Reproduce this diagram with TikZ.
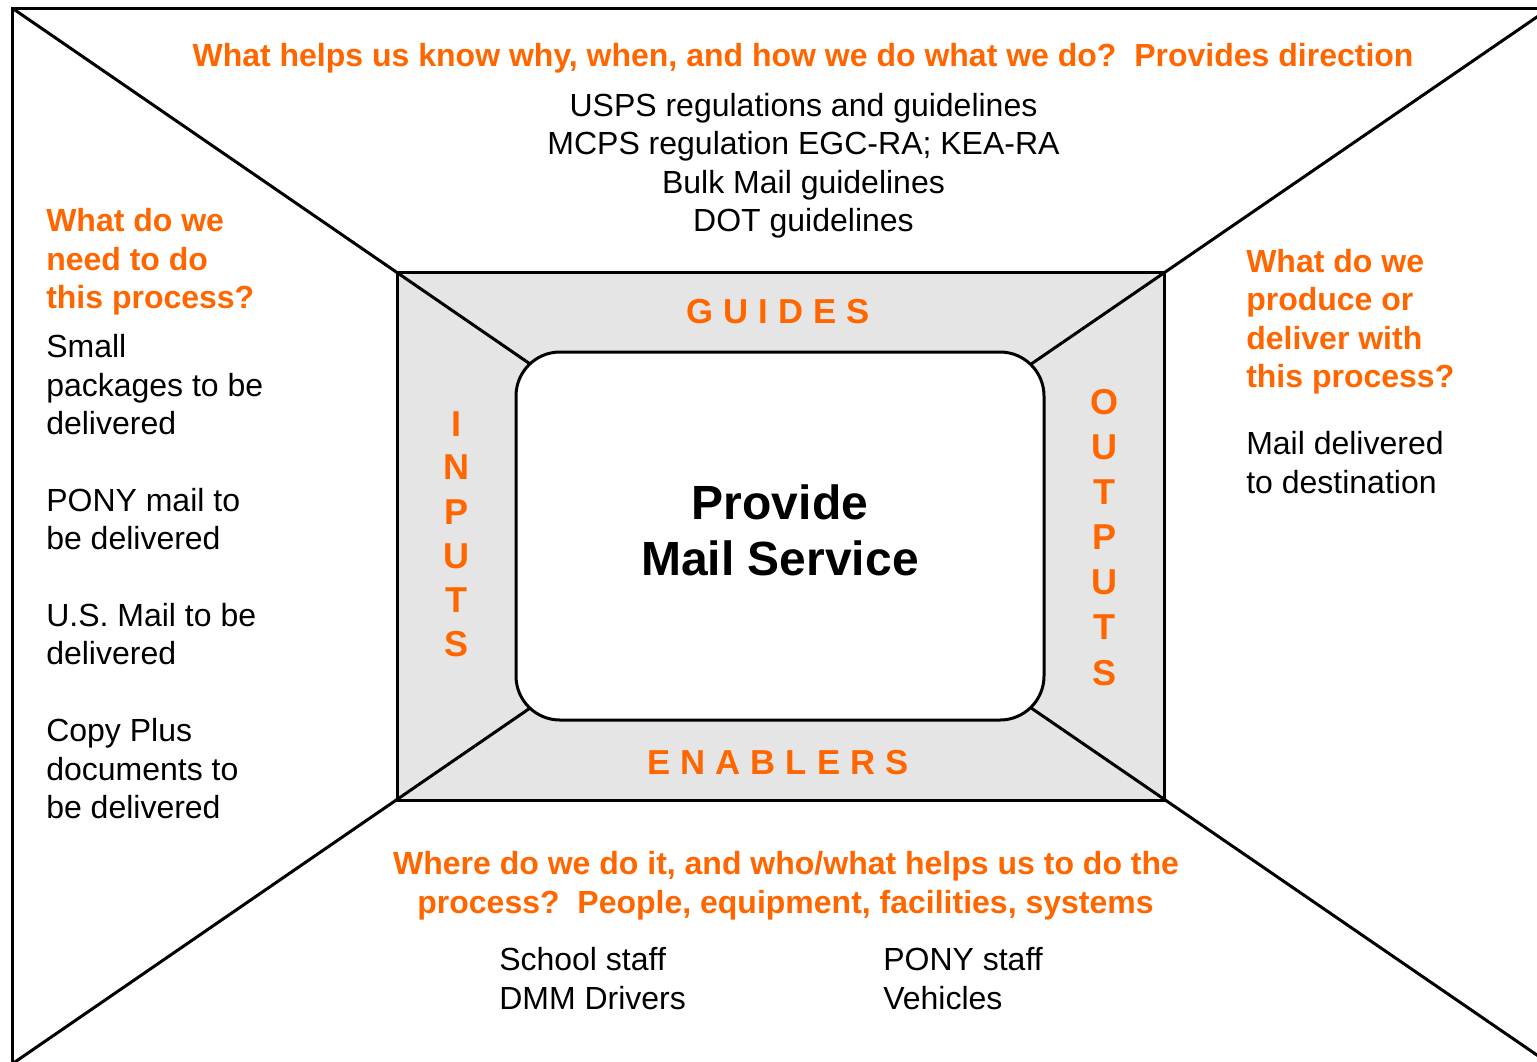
\documentclass[tikz,border=0pt]{standalone}
\usepackage{fontspec}
\setmainfont{Liberation Sans}
\definecolor{org}{RGB}{255,102,0}
\definecolor{boxgray}{RGB}{229,229,229}
\tikzset{
  txt/.style={inner sep=0pt, font=\fontsize{24}{28}\selectfont, text height=17.2pt, text depth=0pt},
  otxt/.style={inner sep=0pt, text=org, font=\fontsize{24}{28}\selectfont\bfseries, text height=17.2pt, text depth=0pt},
  spaced/.style={inner sep=0pt, text=org, font=\fontsize{26}{30}\selectfont\bfseries\addfontfeature{LetterSpace=29}, text height=18.6pt, text depth=0pt},
  vlet/.style={inner sep=0pt, text=org, font=\fontsize{27}{30}\selectfont\bfseries, text height=19.4pt, text depth=0pt},
  title/.style={inner sep=0pt, font=\fontsize{36}{40}\selectfont\bfseries, text height=25.8pt, text depth=0pt},
  frame/.style={line width=2.25pt, line join=miter},
}
\begin{document}
\begin{tikzpicture}[x=0.75pt,y=-0.75pt]
\useasboundingbox (0,0) rectangle (1537,1061);
\clip (0,0) rectangle (1537,1061);
% geometry
\coordinate (o1) at (12,8);
\coordinate (o2) at (1550,8);
\coordinate (o3) at (1550,1064);
\coordinate (o4) at (12,1064);
\coordinate (c) at (780.5,536);
\coordinate (g1) at (397,272);
\coordinate (g3) at (1164,800);
\fill[boxgray] (g1) rectangle (g3);
\draw[frame] (o1) rectangle (o3);
\draw[frame] (o1) -- (c);
\draw[frame] (o2) -- (c);
\draw[frame] (o3) -- (c);
\draw[frame] (o4) -- (c);
\draw[frame] (g1) rectangle (g3);
\draw[frame, fill=white, rounded corners=33pt] (516,352) rectangle (1044,720);

% top
\node[otxt] (qtop) at (803,55) {What helps us know why, when, and how we do what we do?\ \ Provides direction};
\node[txt] (t1) at (803.5,105) {USPS regulations and guidelines};
\node[txt] (t2) at (803.5,143) {MCPS regulation EGC-RA; KEA-RA};
\node[txt] (t3) at (803.5,182) {Bulk Mail guidelines};
\node[txt] (t4) at (803.5,220) {DOT guidelines};

% left
\node[otxt, anchor=west] (ql1) at (46,220) {What do we};
\node[otxt, anchor=west] (ql2) at (46,259) {need to do};
\node[otxt, anchor=west] (ql3) at (46,297) {this process?};
\node[txt, anchor=west] (l1) at (46,346) {Small};
\node[txt, anchor=west] (l2) at (46,385) {packages to be};
\node[txt, anchor=west] (l3) at (46,423) {delivered};
\node[txt, anchor=west] (l4) at (46,500) {PONY mail to};
\node[txt, anchor=west] (l5) at (46,538) {be delivered};
\node[txt, anchor=west] (l6) at (46,615) {U.S. Mail to be};
\node[txt, anchor=west] (l7) at (46,653) {delivered};
\node[txt, anchor=west] (l8) at (46,730) {Copy Plus};
\node[txt, anchor=west] (l9) at (46,769) {documents to};
\node[txt, anchor=west] (l10) at (46,807) {be delivered};

% right
\node[otxt, anchor=west] (qr1) at (1246,261) {What do we};
\node[otxt, anchor=west] (qr2) at (1246,299) {produce or};
\node[otxt, anchor=west] (qr3) at (1246,338) {deliver with};
\node[otxt, anchor=west] (qr4) at (1246,376) {this process?};
\node[txt, anchor=west] (r1) at (1246,443) {Mail delivered};
\node[txt, anchor=west] (r2) at (1246,482) {to destination};

% bottom
\node[otxt] (qb1) at (786,863) {Where do we do it, and who/what helps us to do the};
\node[otxt] (qb2) at (785.5,902) {process?\ \ People, equipment, facilities, systems};
\node[txt, anchor=west] (b1) at (499,959) {School staff};
\node[txt, anchor=west] (b2) at (499,998) {DMM Drivers};
\node[txt, anchor=west] (b3) at (883,959) {PONY staff};
\node[txt, anchor=west] (b4) at (883,998) {Vehicles};

% frame labels
\node[spaced] (guides) at (778,311) {GUIDES};
\node[spaced] (enablers) at (778,762) {ENABLERS};
\foreach \l/\y [count=\i] in {I/424,N/467,P/512,U/556,T/600,S/644}
  \node[vlet] (in\i) at (456,\y) {\l};
\foreach \l/\y [count=\i] in {O/402,U/447,T/492,P/537,U/582,T/627,S/673}
  \node[vlet] (out\i) at (1104,\y) {\l};

% centre
\node[title] (p1) at (780,502) {Provide};
\node[title] (p2) at (780,558) {Mail Service};
\end{tikzpicture}
\end{document}
